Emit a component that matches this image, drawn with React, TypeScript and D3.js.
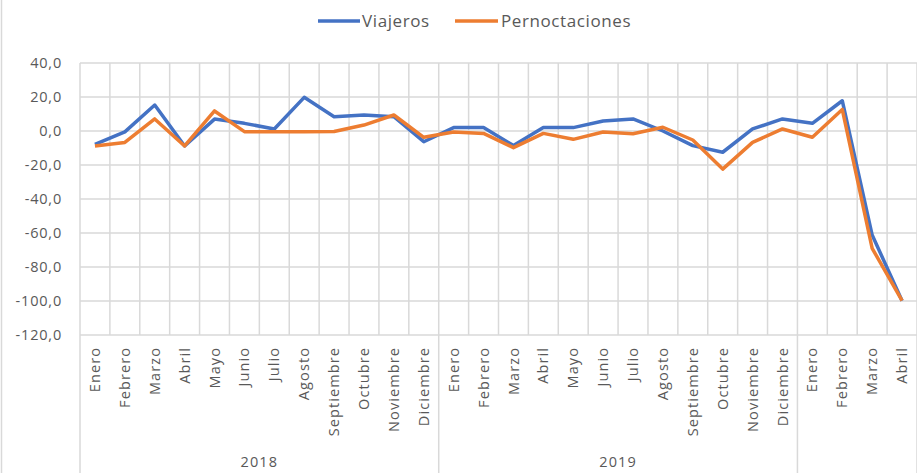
import * as d3 from "d3";

const months = [
  "Enero", "Febrero", "Marzo", "Abril", "Mayo", "Junio", "Julio", "Agosto",
  "Septiembre", "Octubre", "Noviembre", "Diciembre",
  "Enero", "Febrero", "Marzo", "Abril", "Mayo", "Junio", "Julio", "Agosto",
  "Septiembre", "Octubre", "Noviembre", "Diciembre",
  "Enero", "Febrero", "Marzo", "Abril",
];
const years = ["2018", "2019", ""];
const yearCounts = [12, 12, 4];

const viajeros = [
  -7.8, -0.5, 15.3, -8.8, 7.0, 4.5, 1.2, 19.8, 8.4, 9.4, 8.4, -6.3,
  2.0, 2.0, -8.6, 2.0, 2.0, 5.9, 7.1, 0.0, -8.6, -12.5, 1.2, 7.1,
  4.5, 17.8, -61.2, -99.8,
];
const pernoctaciones = [
  -8.8, -6.7, 7.1, -8.8, 11.8, -0.4, -0.4, -0.4, -0.3, 3.5, 9.4, -3.7,
  -0.6, -1.4, -9.8, -1.4, -4.9, -0.6, -1.6, 2.2, -5.3, -22.4, -6.7, 1.2,
  -3.7, 12.7, -69.0, -99.8,
];
const yTicks = [40, 20, 0, -20, -40, -60, -80, -100, -120];

const W = 917;
const H = 473;
const left = 80;
const right = 917;
const top = 63;
const bottom = 335;
const grid = "#d9d9d9";
const txt = "#595959";
const font = "'Open Sans', sans-serif";

export default function App() {
  const idx = months.map((_, i) => i);
  const x = d3.scaleBand<number>().domain(idx).range([left, right]).padding(0);
  const y = d3.scaleLinear().domain([-120, 40]).range([bottom, top]);
  const bw = x.bandwidth();
  const cx = (i: number) => (x(i) as number) + bw / 2;

  const line = d3
    .line<number>()
    .x((_, i) => cx(i))
    .y((v) => y(v));

  const fmt = (v: number) => d3.format(".1f")(v).replace(".", ",").replace("−", "-");

  // group boundaries
  let acc = 0;
  const groups = years.map((label, g) => {
    const start = acc;
    acc += yearCounts[g];
    return { label, start, end: acc };
  });
  const edge = (i: number) => (i >= months.length ? right : (x(i) as number));

  return (
    <svg
      width={W}
      height={H}
      style={{ position: "absolute", left: 0, top: 0, background: "#fff" }}
      fontFamily={font}
    >
      <rect x={0} y={0} width={W} height={H} fill="#fff" />
      <line x1={1.5} x2={1.5} y1={0} y2={H} stroke={grid} strokeWidth={1.5} />

      {/* legend */}
      <g>
        <line x1={318} x2={360} y1={21} y2={21} stroke="#4472c4" strokeWidth={3.5} />
        <text x={362} y={21} dy="0.35em" fontSize={17} fill={txt} letterSpacing={0.6}>
          Viajeros
        </text>
        <line x1={455} x2={498} y1={21} y2={21} stroke="#ed7d31" strokeWidth={3.5} />
        <text x={501} y={21} dy="0.35em" fontSize={17} fill={txt} letterSpacing={0.6}>
          Pernoctaciones
        </text>
      </g>

      {/* horizontal grid + y labels */}
      {yTicks.map((t) => (
        <g key={`yt-${t}`}>
          <line x1={left} x2={right} y1={y(t)} y2={y(t)} stroke={grid} strokeWidth={1.5} />
          <text
            x={62}
            y={y(t)}
            dy="0.35em"
            textAnchor="end"
            fontSize={14.5}
            fill={txt}
            letterSpacing={0.8}
          >
            {fmt(t)}
          </text>
        </g>
      ))}

      {/* vertical grid */}
      {d3.range(months.length + 1).map((i) => (
        <line
          key={`vg-${i}`}
          x1={edge(i)}
          x2={edge(i)}
          y1={top}
          y2={bottom}
          stroke={grid}
          strokeWidth={1.5}
        />
      ))}

      {/* group separators */}
      {[0, ...groups.map((g) => g.end)].map((i) => (
        <line
          key={`sep-${i}`}
          x1={edge(i)}
          x2={edge(i)}
          y1={bottom}
          y2={H}
          stroke={grid}
          strokeWidth={1.5}
        />
      ))}

      {/* month labels */}
      {months.map((m, i) => (
        <text
          key={`m-${i}`}
          transform={`translate(${cx(i)},347) rotate(-90)`}
          dy="0.35em"
          textAnchor="end"
          fontSize={14.5}
          fill={txt}
          letterSpacing={1.1}
        >
          {m}
        </text>
      ))}

      {/* year labels */}
      {groups.map((g) => (
        <text
          key={`yr-${g.start}`}
          x={(edge(g.start) + edge(g.end)) / 2}
          y={462}
          dy="0.35em"
          textAnchor="middle"
          fontSize={14.5}
          fill={txt}
          letterSpacing={1.1}
        >
          {g.label}
        </text>
      ))}

      {/* series */}
      <path d={line(viajeros) || ""} fill="none" stroke="#4472c4" strokeWidth={3.5} strokeLinejoin="round" />
      <path d={line(pernoctaciones) || ""} fill="none" stroke="#ed7d31" strokeWidth={3.5} strokeLinejoin="round" />
    </svg>
  );
}
